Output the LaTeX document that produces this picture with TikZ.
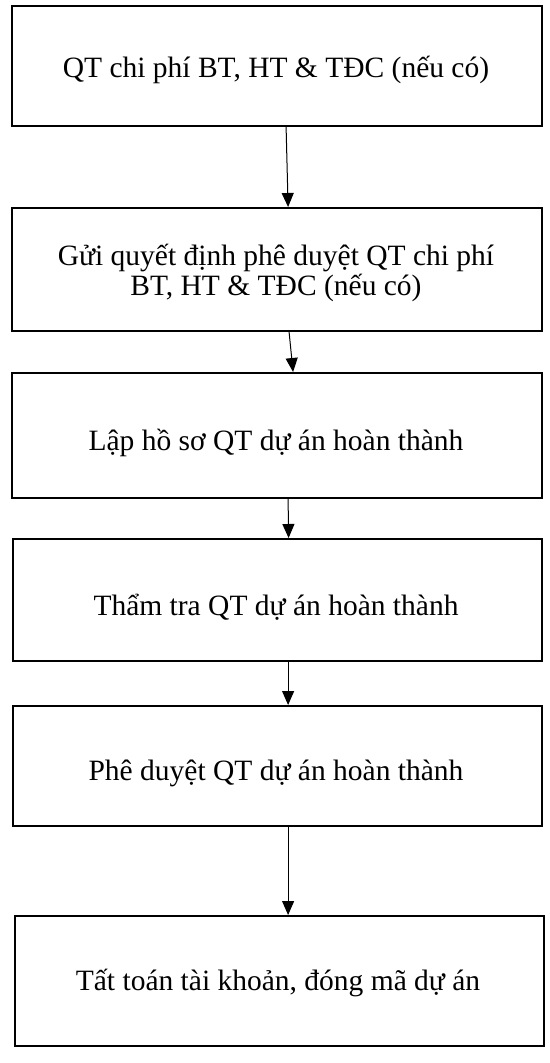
\documentclass[tikz,border=0pt]{standalone}
\usepackage{fontspec}
\setmainfont{Liberation Serif}
\usetikzlibrary{arrows.meta}
\begin{document}
\begin{tikzpicture}[x=1pt,y=-1pt,
  stepbox/.style={draw, line width=2.2pt, inner sep=0pt, anchor=north west},
  steptext/.style={anchor=base, inner sep=0pt, align=center,
    font=\fontsize{29.5}{30}\selectfont},
  flow/.style={line width=1pt, -{Triangle[width=12pt,length=14pt]}}]
% page
\fill[white] (0,0) rectangle (549,1063);
\useasboundingbox (0,0) rectangle (549,1063);

% process steps
\node[stepbox, minimum width=530pt, minimum height=120pt] (b1) at (11,5) {};
\node[stepbox, minimum width=530pt, minimum height=123pt] (b2) at (11,207) {};
\node[stepbox, minimum width=530pt, minimum height=125pt] (b3) at (11,372) {};
\node[stepbox, minimum width=529pt, minimum height=122pt] (b4) at (12,538) {};
\node[stepbox, minimum width=529pt, minimum height=120pt] (b5) at (12,705) {};
\node[stepbox, minimum width=529pt, minimum height=130pt] (b6) at (14,915) {};

% step labels (base anchor = baseline of the last line)
\node[steptext] (t1) at (276,77) {QT chi phí BT, HT \& TĐC (nếu có)};
\node[steptext] (t2) at (276,295) {Gửi quyết định phê duyệt QT chi phí\\BT, HT \& TĐC (nếu có)};
\node[steptext] (t3) at (276,450) {Lập hồ sơ QT dự án hoàn thành};
\node[steptext] (t4) at (276,615) {Thẩm tra QT dự án hoàn thành};
\node[steptext] (t5) at (276,780) {Phê duyệt QT dự án hoàn thành};
\node[steptext] (t6) at (278,990) {Tất toán tài khoản, đóng mã dự án};

% flow arrows
\draw[flow] ([xshift=9pt]b1.south) -- ([xshift=11pt]b2.north);
\draw[flow] ([xshift=12pt]b2.south) -- ([xshift=16pt]b3.north);
\draw[flow] ([xshift=11pt]b3.south) -- ([xshift=11pt]b4.north);
\draw[flow] ([xshift=10.5pt]b4.south) -- ([xshift=10.5pt]b5.north);
\draw[flow] ([xshift=10.5pt]b5.south) -- ([xshift=8.5pt]b6.north);
\end{tikzpicture}
\end{document}
